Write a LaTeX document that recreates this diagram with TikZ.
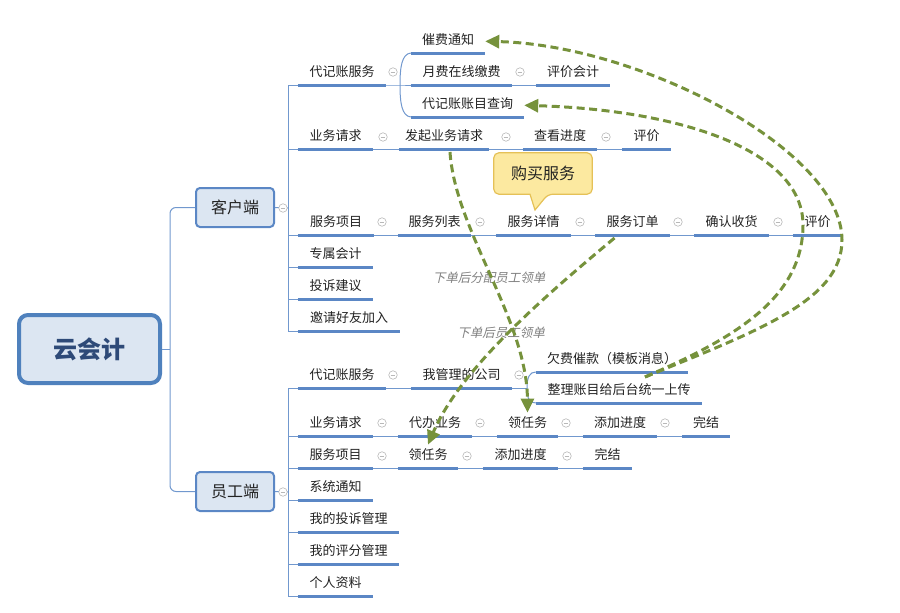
\documentclass[tikz,border=0pt]{standalone}
\usepackage{fontspec}
\setmainfont{Noto Sans CJK SC}
\newfontfamily\slfont{Noto Sans CJK SC}[FakeSlant=0.22]
\usetikzlibrary{arrows.meta,backgrounds}
\definecolor{ubl}{HTML}{5B87C5}
\definecolor{cbl}{HTML}{7198CE}
\definecolor{boxfill}{HTML}{DCE6F2}
\definecolor{rootline}{HTML}{4F81BD}
\definecolor{roottext}{HTML}{2E4A78}
\definecolor{grn}{HTML}{76923C}
\definecolor{txt}{HTML}{222222}
\definecolor{foldc}{HTML}{B8B8B8}
\definecolor{callfill}{HTML}{FCE9A0}
\definecolor{callline}{HTML}{E5C157}
\definecolor{notec}{HTML}{7F7F7F}
\tikzset{
  leaf/.style={anchor=south, inner xsep=0pt, inner ysep=4pt, text height=11pt, text depth=4pt,
    font=\fontsize{13}{15}\selectfont, text=txt},
  uline/.style={draw=ubl, line width=3pt},
  conn/.style={draw=cbl, line width=1pt},
  fold/.style={circle, draw=foldc, fill=white, line width=0.6pt, minimum size=8.5pt, inner sep=0pt,
    path picture={\draw[foldc,line width=0.7pt] ([xshift=-2.3pt]path picture bounding box.center) -- ([xshift=2.3pt]path picture bounding box.center);}},
  flow/.style={draw=grn, line width=3pt, dash pattern=on 8pt off 4.5pt, -{Triangle[length=14pt,width=13pt]}},
  note/.style={font=\slfont\fontsize{12.5}{14}\selectfont, text=notec},
  sidebox/.style={draw=ubl, line width=2pt, fill=boxfill, rounded corners=4pt, minimum width=78, minimum height=39,
    font=\fontsize{16}{18}\selectfont, text=txt},
}
\begin{document}
\begin{tikzpicture}[x=1pt,y=-1pt]
\useasboundingbox (0,0) rectangle (900,613);

% main nodes
\node[draw=rootline, line width=4pt, fill=boxfill, rounded corners=9pt, minimum width=141, minimum height=68,
  font=\bfseries\fontsize{24}{28}\selectfont, text=roottext] (root) at (89.5,349) {云会计};
\node[sidebox] (kehu) at (235,207.5) {客户端};
\node[sidebox] (yuangong) at (235,491.5) {员工端};

% customer side
\node[leaf, minimum width=88] (c1) at (342,85) {代记账服务};
\node[leaf, minimum width=74] (c11) at (448,53) {催费通知};
\node[leaf, minimum width=101] (c12) at (461.5,85) {月费在线缴费};
\node[leaf, minimum width=74] (c121) at (573,85) {评价会计};
\node[leaf, minimum width=113] (c13) at (467.5,117) {代记账账目查询};

\node[leaf, minimum width=75] (c2) at (335.5,149) {业务请求};
\node[leaf, minimum width=90] (c21) at (444,149) {发起业务请求};
\node[leaf, minimum width=74] (c22) at (560,149) {查看进度};
\node[leaf, minimum width=49] (c23) at (646.5,149) {评价};

\node[leaf, minimum width=76] (c3) at (336,235) {服务项目};
\node[leaf, minimum width=73] (c31) at (434.5,235) {服务列表};
\node[leaf, minimum width=75] (c32) at (533.5,235) {服务详情};
\node[leaf, minimum width=75] (c33) at (632.5,235) {服务订单};
\node[leaf, minimum width=75] (c34) at (731.5,235) {确认收货};
\node[leaf, minimum width=49] (c35) at (817.5,235) {评价};

\node[leaf, minimum width=75] (c4) at (335.5,267) {专属会计};
\node[leaf, minimum width=75] (c5) at (335.5,299) {投诉建议};
\node[leaf, minimum width=102] (c6) at (349,331) {邀请好友加入};

% employee side
\node[leaf, minimum width=88] (e1) at (342,388) {代记账服务};
\node[leaf, minimum width=101] (e11) at (461.5,388) {我管理的公司};
\node[leaf, minimum width=152] (e111) at (612,372) {欠费催款（模板消息）};
\node[leaf, minimum width=166] (e112) at (619,403) {整理账目给后台统一上传};

\node[leaf, minimum width=75] (e2) at (335.5,436) {业务请求};
\node[leaf, minimum width=74] (e21) at (435,436) {代办业务};
\node[leaf, minimum width=61] (e22) at (527.5,436) {领任务};
\node[leaf, minimum width=74] (e23) at (620,436) {添加进度};
\node[leaf, minimum width=48] (e24) at (706,436) {完结};

\node[leaf, minimum width=75] (e3) at (335.5,468) {服务项目};
\node[leaf, minimum width=60] (e31) at (428,468) {领任务};
\node[leaf, minimum width=75] (e32) at (520.5,468) {添加进度};
\node[leaf, minimum width=49] (e33) at (607.5,468) {完结};

\node[leaf, minimum width=75] (e4) at (335.5,500) {系统通知};
\node[leaf, minimum width=101] (e5) at (348.5,532) {我的投诉管理};
\node[leaf, minimum width=101] (e6) at (348.5,564) {我的评分管理};
\node[leaf, minimum width=75] (e7) at (335.5,596) {个人资料};

% trunk connectors
\coordinate (trunk) at (170,349);
\draw[conn] (root.east) -- (trunk);
\draw[conn, rounded corners=6pt] (kehu.west) -| (trunk) |- (yuangong.west);

\coordinate (kv) at (288,208);
\draw[conn] (kehu.east) -- (kv);
\draw[conn] (kv |- c1.south) -- (kv |- c6.south);
\foreach \n in {c1,c2,c3,c4,c5,c6} \draw[conn] (kv |- \n.south) -- (\n.south west);

\coordinate (ev) at (288,492);
\draw[conn] (yuangong.east) -- (ev);
\draw[conn] (ev |- e1.south) -- (ev |- e7.south);
\foreach \n in {e1,e2,e3,e4,e5,e6,e7} \draw[conn] (ev |- \n.south) -- (\n.south west);

% chains
\foreach \a/\b in {c12/c121,c2/c21,c21/c22,c22/c23,c3/c31,c31/c32,c32/c33,c33/c34,c34/c35,
  e1/e11,e2/e21,e21/e22,e22/e23,e23/e24,e3/e31,e31/e32,e32/e33}
  \draw[conn] (\a.south east) -- (\b.south west);

% brackets
\coordinate (b1) at (400,85);
\draw[conn] (c1.south east) -- (b1) -- (c12.south west);
\draw[conn] (c11.south west) .. controls +(-9,1) and +(0,-18) .. (b1) .. controls +(0,18) and +(-9,-1) .. (c13.south west);
\coordinate (b2) at (527,388);
\draw[conn] (e11.south east) -- (b2);
\draw[conn] (b2) .. controls +(0,-11) and +(-6,0) .. (e111.south west);
\draw[conn] (b2) .. controls +(0,11) and +(-6,0) .. (e112.south west);

% underlines
\foreach \n in {c1,c11,c12,c121,c13,c2,c21,c22,c23,c3,c31,c32,c33,c34,c35,c4,c5,c6,
  e1,e11,e111,e112,e2,e21,e22,e23,e24,e3,e31,e32,e33,e4,e5,e6,e7}
  \draw[uline] (\n.south west) -- (\n.south east);

% fold markers
\foreach \p [count=\i] in {{283,208},{393,72},{520,72},{383,137},{506,137},{606,137},
  {382,222},{480,222},{580,222},{678,222},{778,222},
  {283,492},{393,375},{519,375},{382,423},{480,423},{566,423},{665,423},
  {382,456},{467,456},{567,456}}
  \node[fold] (fold\i) at (\p) {};

% callout
\node[font=\fontsize{16}{18}\selectfont, text=txt, minimum width=98, minimum height=41, inner sep=0pt] (buy) at (543,173.5) {购买服务};
\coordinate (buytip) at (535,210);
\begin{pgfonlayer}{background}
\draw[draw=callline, fill=callfill, line width=1.2pt, rounded corners=5pt]
  (buy.south west) -- (buy.north west) -- (buy.north east) -- (buy.south east)
  -- ([xshift=5pt]buy.south) [sharp corners] -- (buytip) -- ([xshift=-13pt]buy.south)
  [rounded corners=5pt] -- cycle;
\end{pgfonlayer}

% notes
\node[note] (n1) at (489,278) {下单后分配员工领单};
\node[note] (n2) at (501,333) {下单后员工领单};

% flow arrows
\coordinate (r1) at (842,240);
\coordinate (r2) at (803,225);
\draw[flow] ([xshift=33pt,yshift=-5pt]e111.south) .. controls (760,330) and (842,300) .. (r1)
  .. controls (842,150) and (640,45) .. (c11.east);
\draw[flow] ([xshift=33pt,yshift=-5pt]e111.south) .. controls (730,340) and (803,300) .. (r2)
  .. controls (803,150) and (680,110) .. (c13.east);
\draw[flow] ([xshift=6pt,yshift=-3pt]c21.south) .. controls (455,230) and (527,320) .. (e22.north);
\draw[flow] ([xshift=-18pt,yshift=-3pt]c33.south) .. controls (540,300) and (460,370) .. (e31.north);
\end{tikzpicture}
\end{document}
